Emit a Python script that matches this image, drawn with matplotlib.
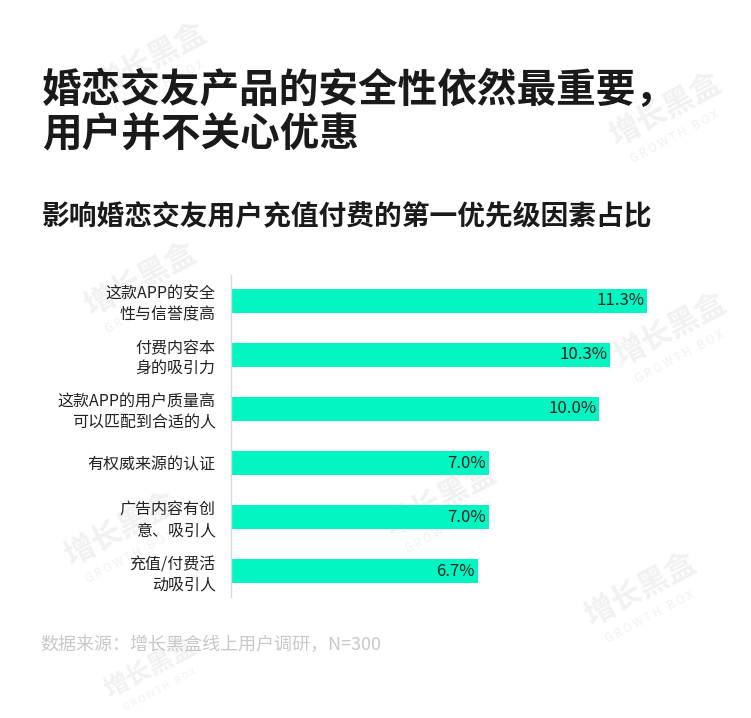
import matplotlib.pyplot as plt

plt.rcParams['font.family'] = ['Noto Sans CJK SC', 'DejaVu Sans']

# 数据
labels = ['这款APP的安全\n性与信誉度高', '付费内容本\n身的吸引力', '这款APP的用户质量高\n可以匹配到合适的人',
          '有权威来源的认证', '广告内容有创\n意、吸引人', '充值/付费活\n动吸引人']
values = [11.3, 10.3, 10.0, 7.0, 7.0, 6.7]
value_labels = ['11.3%', '10.3%', '10.0%', '7.0%', '7.0%', '6.7%']

W, H = 751, 718
fig = plt.figure(figsize=(W / 100, H / 100), dpi=100)

# 水印（放在坐标轴下面）
wm_color = '#f1f1f1'
for (x, y, fs) in [(150, 60, 22), (665, 110, 22), (140, 280, 22), (670, 330, 22),
                   (120, 530, 22), (440, 500, 22), (640, 590, 22), (150, 668, 18)]:
    fig.text(x / W, 1 - y / H, '增长黑盒', fontsize=fs, color=wm_color, rotation=28,
             ha='center', va='center', fontweight='bold', zorder=0)
    fig.text((x + 10) / W, 1 - (y + fs * 1.2) / H, 'G R O W T H   B O X', fontsize=fs * 0.38,
             color=wm_color, rotation=28, ha='center', va='center', zorder=0)

# 标题
fig.text(42 / W, 1 - 90 / H, '婚恋交友产品的安全性依然最重要，', fontsize=28.5, fontweight='bold',
         color='#1a1a1a', ha='left', va='center', zorder=2)
fig.text(42 / W, 1 - 135 / H, '用户并不关心优惠', fontsize=28.5, fontweight='bold',
         color='#1a1a1a', ha='left', va='center', zorder=2)
fig.text(42 / W, 1 - 217 / H, '影响婚恋交友用户充值付费的第一优先级因素占比', fontsize=20, fontweight='bold',
         color='#1a1a1a', ha='left', va='center', zorder=2)
fig.text(40 / W, 1 - 645 / H, '数据来源：增长黑盒线上用户调研，N=300', fontsize=13,
         color='#c8c8c8', ha='left', va='center', fontweight='medium', zorder=2)

ax = fig.add_axes([231 / W, 1 - 597 / H, 460 / W, (597 - 275) / H])
ax.set_zorder(1)
ax.patch.set_alpha(0)
ypos = list(range(len(values)))
ax.barh(ypos, values, height=0.43, color='#03F5C2', zorder=2)
ax.set_xlim(0, 12.5)
ax.set_ylim(5.48, -0.48)

for y, v, t in zip(ypos, values, value_labels):
    ax.text(v - 0.07, y, t, ha='right', va='center', fontsize=12, color='#222222',
            fontweight='light', zorder=3)

ax.set_yticks(ypos)
ax.set_yticklabels(labels, fontsize=11.5, color='#222222', linespacing=1.25)
ax.tick_params(axis='y', length=0, pad=11)
ax.set_xticks([])
for s in ['top', 'right', 'bottom']:
    ax.spines[s].set_visible(False)
ax.spines['left'].set_color('#d9d9d9')
ax.spines['left'].set_linewidth(1)

fig.savefig('out.png', dpi=100, facecolor='white')
